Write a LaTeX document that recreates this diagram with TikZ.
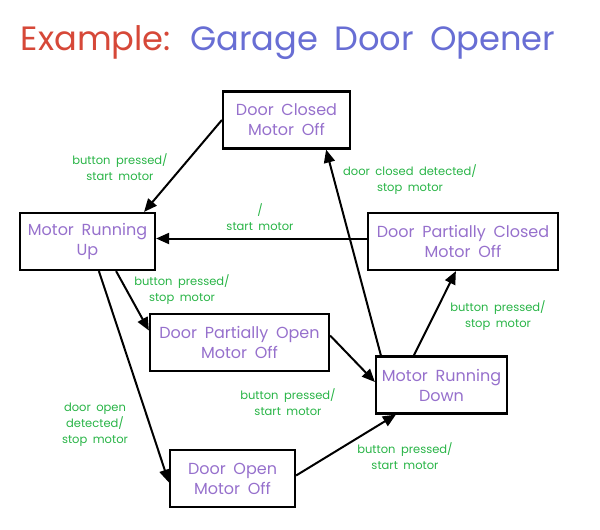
\documentclass[tikz,border=0pt]{standalone}
\usepackage{fontspec}
\setmainfont{Poppins}[WordSpace=1.8]
\usetikzlibrary{arrows.meta}
\definecolor{titlered}{RGB}{214,72,56}
\definecolor{titleblue}{RGB}{104,110,212}
\definecolor{statetext}{RGB}{150,112,204}
\definecolor{evgreen}{RGB}{40,180,70}

\tikzset{
	state/.style={draw, line width=2.2pt, text=statetext, align=center, inner sep=0pt,
		minimum height=57pt, font=\fontsize{16}{20}\selectfont},
	trans/.style={line width=2pt, -{Triangle[length=13pt,width=11pt]}},
	event/.style={text=evgreen, align=center, font=\fontsize{11.5}{16}\selectfont},
}

\begin{document}
\begin{tikzpicture}[x=1pt,y=-1pt]
\useasboundingbox (0,0) rectangle (600,530);
	% title
	\node (title) [anchor=base, font=\fontsize{33.7}{40}\selectfont] at (288,50)
		{\textcolor{titlered}{Example:} \textcolor{titleblue}{Garage Door Opener}};
	% states
	\node (DC) [state, minimum width=127pt] at (286.5,120) {Door Closed\\Motor Off};
	\node (MRU) [state, minimum width=135pt] at (87.5,241.5) {Motor Running\\Up};
	\node (DPC) [state, minimum width=190pt] at (463,241.5) {Door Partially Closed\\Motor Off};
	\node (DPO) [state, minimum width=179pt] at (239.5,342.5) {Door Partially Open\\Motor Off};
	\node (MRD) [state, minimum width=131pt] at (441.5,385) {Motor Running\\Down};
	\node (DO) [state, minimum width=125pt] at (232.5,478.5) {Door Open\\Motor Off};
	% transitions
	\draw[trans] (DC.west) -- ([xshift=-12pt]MRU.north east);
	\draw[trans] ([yshift=3pt]DPC.west) -- ([yshift=3pt]MRU.east);
	\draw[trans] ([xshift=-40pt]MRU.south east) -- ([yshift=12pt]DPO.west);
	\draw[trans] ([xshift=80pt]MRU.south west) -- ([yshift=-4pt]DO.west);
	\draw[trans] ([yshift=7pt]DPO.east) -- ([yshift=3pt]MRD.west);
	\draw[trans] ([yshift=3pt]DO.east) -- ([xshift=21pt]MRD.south west);
	\draw[trans] ([xshift=6pt]MRD.north west) -- ([xshift=-25pt]DC.south east);
	\draw[trans] ([xshift=39pt]MRD.north west) -- ([xshift=89pt]DPC.south west);
	% events
	\node (e1) [event] at (120,167) {button pressed/\\start motor};
	\node (e2) [event] at (260,217) {/\\start motor};
	\node (e3) [event] at (182,290) {button pressed/\\stop motor};
	\node (e4) [event] at (95,425) {door open\\detected/\\stop motor};
	\node (e5) [event] at (288,402) {button pressed/\\start motor};
	\node (e6) [event] at (405,456) {button pressed/\\start motor};
	\node (e7) [event] at (410,180) {door closed detected/\\stop motor};
	\node (e8) [event] at (498,316) {button pressed/\\stop motor};
\end{tikzpicture}
\end{document}
